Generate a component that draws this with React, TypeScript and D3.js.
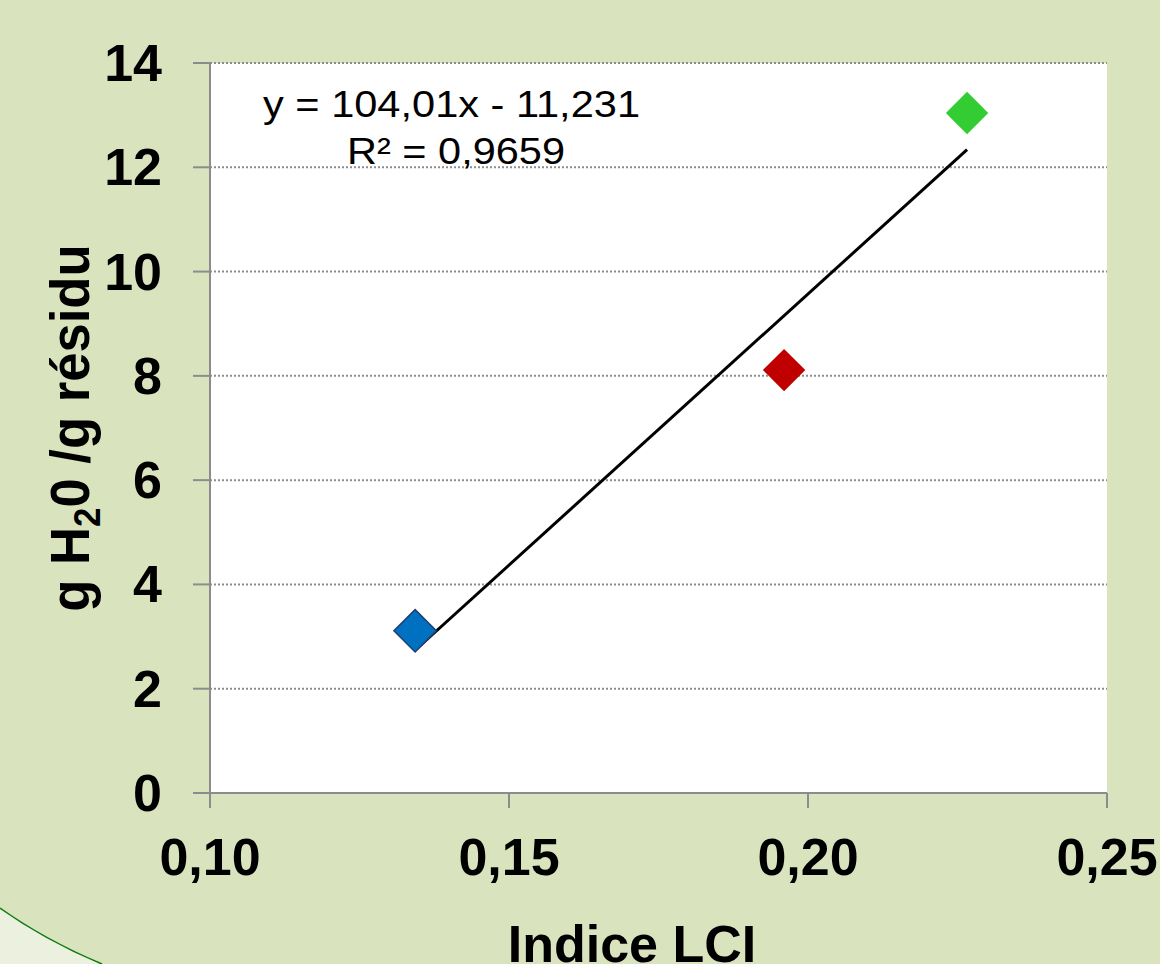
import React, { useEffect, useRef } from "react";
import * as d3 from "d3";

// LCI index vs water retention (g H2O / g residue)
const lciIndex = [0.1343, 0.196, 0.2266];
const waterRetention = [3.11, 8.11, 13.04];
const pointColors = ["#0070c0", "#c00000", "#33cc33"];
const pointStrokes = ["#1f3f73", "none", "none"];

const xTicks = [0.1, 0.15, 0.2, 0.25];
const yTicks = [0, 2, 4, 6, 8, 10, 12, 14];

const trendSlope = 104.01;
const trendIntercept = -11.231;
const equationText = "y = 104,01x - 11,231";
const r2Text = "R² = 0,9659";

const W = 1160;
const H = 964;

export default function App() {
  const ref = useRef<SVGSVGElement>(null);

  useEffect(() => {
    const svg = d3.select(ref.current);
    svg.selectAll("*").remove();

    const font = "'Liberation Sans', Arial, sans-serif";
    const x = d3.scaleLinear().domain([0.1, 0.25]).range([210, 1107]);
    const y = d3.scaleLinear().domain([0, 14]).range([793, 63]);
    const fmtX = (v: number) => d3.format(".2f")(v).replace(".", ",");

    // background + decorative curve bottom-left
    svg.append("rect").attr("width", W).attr("height", H).style("fill", "#d9e4bf");
    svg.append("path")
      .attr("d", "M0,908 Q45,940 102,964 L0,964 Z")
      .style("fill", "#ecf0df");
    svg.append("path")
      .attr("d", "M0,908 Q45,940 102,964")
      .style("fill", "none")
      .style("stroke", "#0b7a0b")
      .style("stroke-width", 1.5);

    // plot area
    svg.append("rect")
      .attr("x", x(0.1)).attr("y", y(14))
      .attr("width", x(0.25) - x(0.1)).attr("height", y(0) - y(14))
      .style("fill", "#ffffff");

    // gridlines
    svg.selectAll(".grid")
      .data(yTicks.filter(d => d > 0))
      .enter()
      .append("line")
        .attr("x1", x(0.1)).attr("x2", x(0.25))
        .attr("y1", d => y(d)).attr("y2", d => y(d))
        .style("stroke", "#8c8c8c")
        .style("stroke-width", 2)
        .style("stroke-dasharray", "2,2");

    // axes
    const axisColor = "#8c8c8c";
    svg.append("line")
      .attr("x1", x(0.1)).attr("x2", x(0.1)).attr("y1", y(14)).attr("y2", y(0) + 15)
      .style("stroke", axisColor).style("stroke-width", 2);
    svg.append("line")
      .attr("x1", x(0.1) - 17).attr("x2", x(0.25)).attr("y1", y(0)).attr("y2", y(0))
      .style("stroke", axisColor).style("stroke-width", 2);

    svg.selectAll(".ytick")
      .data(yTicks)
      .enter()
      .append("line")
        .attr("x1", x(0.1) - 17).attr("x2", x(0.1))
        .attr("y1", d => y(d)).attr("y2", d => y(d))
        .style("stroke", axisColor).style("stroke-width", 2);
    svg.selectAll(".xtick")
      .data(xTicks)
      .enter()
      .append("line")
        .attr("x1", d => x(d)).attr("x2", d => x(d))
        .attr("y1", y(0)).attr("y2", y(0) + 15)
        .style("stroke", axisColor).style("stroke-width", 2);

    svg.selectAll(".ylab")
      .data(yTicks)
      .enter()
      .append("text")
        .attr("x", 162)
        .attr("y", d => y(d) + 18)
        .attr("text-anchor", "end")
        .style("font-family", font).style("font-weight", "bold").style("font-size", "52px")
        .style("fill", "#000")
        .text(d => d);

    svg.selectAll(".xlab")
      .data(xTicks)
      .enter()
      .append("text")
        .attr("x", d => x(d))
        .attr("y", 875)
        .attr("text-anchor", "middle")
        .style("font-family", font).style("font-weight", "bold").style("font-size", "52px")
        .style("fill", "#000")
        .text(d => fmtX(d));

    // axis titles
    svg.append("text")
      .attr("x", 632).attr("y", 962)
      .attr("text-anchor", "middle")
      .style("font-family", font).style("font-weight", "bold").style("font-size", "52px")
      .text("Indice LCI");

    const yt = svg.append("text")
      .attr("transform", "translate(89,428) rotate(-90) scale(0.94,1)")
      .attr("text-anchor", "middle")
      .style("font-family", font).style("font-weight", "bold").style("font-size", "56px");
    yt.append("tspan").text("g H");
    yt.append("tspan").attr("dy", 11).style("font-size", "37px").text("2");
    yt.append("tspan").attr("dy", -11).text("0 /g résidu");

    // trendline
    const xs = d3.extent(lciIndex) as [number, number];
    svg.append("line")
      .attr("x1", x(xs[0])).attr("y1", y(trendSlope * xs[0] + trendIntercept))
      .attr("x2", x(xs[1])).attr("y2", y(trendSlope * xs[1] + trendIntercept))
      .style("stroke", "#000").style("stroke-width", 3);

    // points (diamonds)
    const diamond = d3.symbol().type(d3.symbolSquare).size(30 * 30);
    svg.selectAll(".pt")
      .data(lciIndex)
      .enter()
      .append("path")
        .attr("d", diamond)
        .attr("transform", (d, i) => `translate(${x(d)},${y(waterRetention[i])}) rotate(45)`)
        .style("fill", (d, i) => pointColors[i])
        .style("stroke", (d, i) => pointStrokes[i])
        .style("stroke-width", 1.5);

    // equation label
    svg.append("text")
      .attr("x", 263).attr("y", 117)
      .attr("textLength", 377).attr("lengthAdjust", "spacingAndGlyphs")
      .style("font-family", font).style("font-size", "37px")
      .text(equationText);
    svg.append("text")
      .attr("x", 347).attr("y", 164)
      .attr("textLength", 218).attr("lengthAdjust", "spacingAndGlyphs")
      .style("font-family", font).style("font-size", "37px")
      .text(r2Text);
  }, []);

  return (
    <svg ref={ref} width={W} height={H} style={{ position: "absolute", left: 0, top: 0 }}></svg>
  );
}
